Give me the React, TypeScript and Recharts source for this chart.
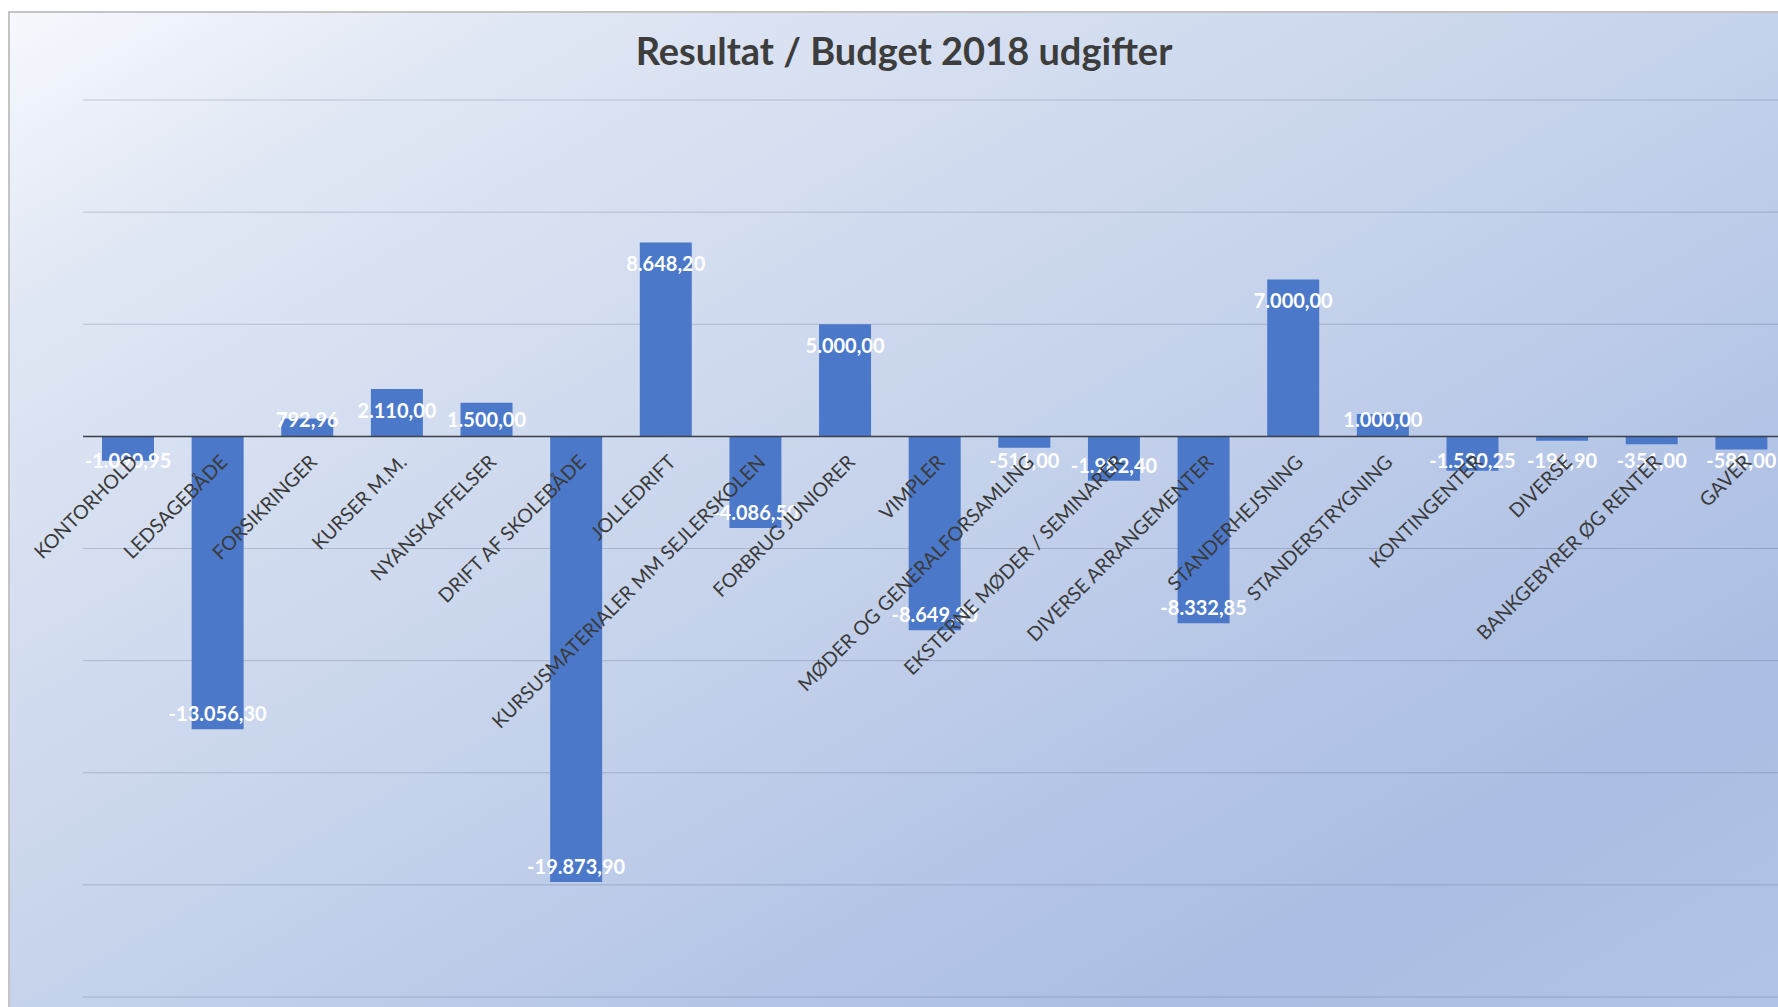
import React from 'react';
import { BarChart, Bar, XAxis, YAxis, CartesianGrid, ReferenceLine, LabelList } from 'recharts';

const categories = [
  'KONTORHOLD',
  'LEDSAGEBÅDE',
  'FORSIKRINGER',
  'KURSER M.M.',
  'NYANSKAFFELSER',
  'DRIFT AF SKOLEBÅDE',
  'JOLLEDRIFT',
  'KURSUSMATERIALER MM SEJLERSKOLEN',
  'FORBRUG JUNIORER',
  'VIMPLER',
  'MØDER OG GENERALFORSAMLING',
  'EKSTERNE MØDER / SEMINARER',
  'DIVERSE ARRANGEMENTER',
  'STANDERHEJSNING',
  'STANDERSTRYGNING',
  'KONTINGENTER',
  'DIVERSE',
  'BANKGEBYRER ØG RENTER',
  'GAVER',
];

const values = [
  -1090.95, -13056.3, 792.96, 2110, 1500, -19873.9, 8648.2, -4086.5, 5000, -8649.3,
  -511, -1982.4, -8332.85, 7000, 1000, -1530.25, -191.9, -351, -580,
];

const yTicks = [-25000, -20000, -15000, -10000, -5000, 0, 5000, 10000, 15000];

const data = categories.map((name, i) => ({ name, value: values[i] }));

// danish number format: 1.234,56
function fmt(v: number) {
  const [int, dec] = Math.abs(v).toFixed(2).split('.');
  return (v < 0 ? '-' : '') + int.replace(/\B(?=(\d{3})+(?!\d))/g, '.') + ',' + dec;
}

function box(props: any) {
  const vb = props.viewBox || {};
  const x = Number(props.x ?? vb.x);
  const y = Number(props.y ?? vb.y);
  const width = Number(props.width ?? vb.width);
  const height = Number(props.height ?? vb.height);
  const top = Math.min(y, y + height);
  const bottom = Math.max(y, y + height);
  return { cx: x + width / 2, top, bottom };
}

const ValueLabel = (props: any) => {
  const { cx, top, bottom } = box(props);
  const v = Number(props.value);
  const cy = v >= 0 ? Math.min(top + 21, bottom - 17) : Math.max(bottom - 16, top + 24);
  return (
    <text x={cx} y={cy} textAnchor="middle" dominantBaseline="central" fill="#ffffff"
      fontSize={20} fontWeight={700} fontFamily="Lato, sans-serif">
      {fmt(v)}
    </text>
  );
};

const CategoryLabel = (props: any) => {
  const { cx, top, bottom } = box(props);
  const v = values[props.index] ?? 0;
  const zero = v >= 0 ? bottom : top;
  const px = cx + 11;
  const py = zero + 27;
  return (
    <text x={px} y={py} textAnchor="end" transform={`rotate(-45 ${px} ${py})`} fill="#3a3a3a"
      fontSize={19.5} fontFamily="Lato, sans-serif">
      {props.value}
    </text>
  );
};

export default function App() {
  return (
    <div style={{ position: 'fixed', left: 0, top: 0, width: 1778, height: 1007, overflow: 'hidden', background: '#ffffff' }}>
      <div
        style={{
          position: 'absolute',
          left: 8,
          top: 11,
          width: 1800,
          height: 1010,
          border: '2px solid #c4c4c4',
          background:
            'linear-gradient(150deg, #f6f8fd 0%, #e0e7f4 15%, #c5d2eb 50%, #b3c4e6 70%, #abbee3 82%, #b2c4e6 100%)',
        }}
      >
        <div
          style={{
            position: 'absolute',
            left: 0,
            top: 18,
            width: 1788,
            textAlign: 'center',
            fontFamily: 'Lato, sans-serif',
            fontWeight: 700,
            fontSize: 38,
            lineHeight: '38px',
            color: '#3d3d3d',
          }}
        >
          Resultat / Budget 2018 udgifter
        </div>
        <BarChart width={1786} height={1000} data={data} margin={{ top: 87, right: 10, bottom: 16, left: 73 }} barSize={52}>
          <CartesianGrid vertical={false} stroke="rgba(50,60,90,0.22)" />
          <XAxis dataKey="name" hide />
          <YAxis hide domain={[-25000, 15000]} ticks={yTicks} />
          <ReferenceLine y={0} stroke="#3b4049" strokeWidth={1.5} />
          <Bar dataKey="value" fill="#4b78c8" isAnimationActive={false}>
            <LabelList dataKey="value" content={ValueLabel} />
            <LabelList dataKey="name" content={CategoryLabel} />
          </Bar>
        </BarChart>
      </div>
    </div>
  );
}
